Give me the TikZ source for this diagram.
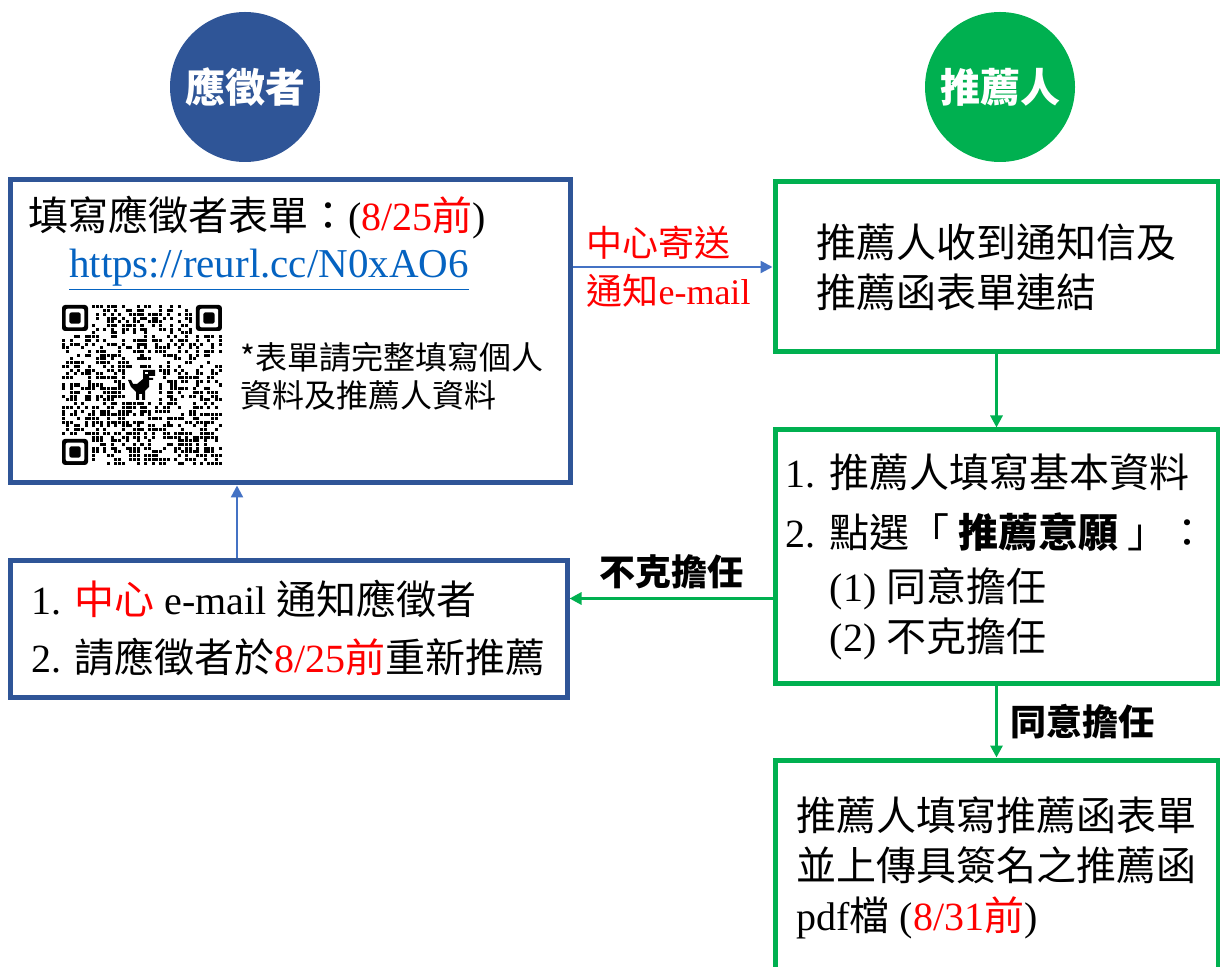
\documentclass[tikz,border=0pt]{standalone}
\usepackage{fontspec}
\setmainfont{Liberation Serif}
\newfontfamily\hei{Noto Sans CJK TC}
\usetikzlibrary{positioning,arrows.meta}
\definecolor{appblue}{HTML}{2F5597}
\definecolor{linkblue}{HTML}{4472C4}
\definecolor{urlblue}{HTML}{0563C1}
\definecolor{refgreen}{HTML}{00B050}
\newcommand{\zh}[1]{{\hei #1}}
\newcommand{\hl}[1]{\textcolor{red}{#1}}

\begin{document}
\begin{tikzpicture}[x=0.5pt, y=-0.5pt,
  every node/.style={font=\fontsize{20}{25}\selectfont, inner sep=0pt},
  bluebox/.style={draw=appblue, line width=2.5pt},
  greenbox/.style={draw=refgreen, line width=2.5pt},
  role/.style={circle, minimum size=75pt, text=white, font=\hei\bfseries\fontsize{20}{24}\selectfont},
  bluearrow/.style={draw=linkblue, line width=1.2pt, -{Triangle[length=6pt,width=6pt]}},
  greenarrow/.style={draw=refgreen, line width=1.5pt, -{Triangle[length=6pt,width=6pt]}},
  armlabel/.style={font=\hei\bfseries\fontsize{18}{22}\selectfont}]
\useasboundingbox (0,0) rectangle (1220,967);

\node[role, fill=appblue] (applicant) at (245,87) {應徵者};
\node[role, fill=refgreen] (referee) at (1000,87) {推薦人};

\node[bluebox, minimum width=280pt, minimum height=151.5pt] (form) at (290,331.5) {};
\node[anchor=west] (formtitle) at (28,218) {\zh{填寫應徵者表單：}(\hl{8/25\zh{前}})};
\node[font=\fontsize{20.5}{25}\selectfont] (url) at (269,270) {\textcolor{urlblue}{\underline{https://reurl.cc/N0xAO6}}};
\node[anchor=west, align=left, font=\hei\fontsize{16}{19}\selectfont] (formnote) at (240,376) {*表單請完整填寫個人\\資料及推薦人資料};

% QR code
\pgfmathsetseed{11}
\foreach \i in {0,...,42}{
  \foreach \j in {0,...,42}{
    \pgfmathtruncatemacro{\qrfree}{((\i<8)&&(\j<8))||((\i>34)&&(\j<8))||((\i<8)&&(\j>34))||((\i>16)&&(\i<26)&&(\j>16)&&(\j<26)) ? 0 : 1}
    \pgfmathrandominteger{\qrbit}{0}{1}
    \ifnum\qrfree=1 \ifnum\qrbit=1
      \fill ({62+\i*3.72+0.35},{305+\j*3.72+0.35}) rectangle ++(3.05,3.05);
    \fi\fi
  }
}
\foreach \fx/\fy in {0/0,36/0,0/36}{
  \fill[rounded corners=1.5pt] ({62+\fx*3.72},{305+\fy*3.72}) rectangle ++(26,26);
  \fill[white, rounded corners=1pt] ({62+(\fx+1)*3.72},{305+(\fy+1)*3.72}) rectangle ++(18.6,18.6);
  \fill[rounded corners=1pt] ({62+(\fx+2)*3.72},{305+(\fy+2)*3.72}) rectangle ++(11.2,11.2);
}
\begin{scope}[shift={(128,370)}]
  \fill (15,0) -- (27,0) -- (27,6) -- (21,6) -- (21,8) -- (25,8) -- (25,10) -- (21,10) -- (21,17)
    -- (17,21) -- (17,30) -- (14,30) -- (14,24) -- (11,24) -- (11,30) -- (8,30) -- (8,22)
    -- (3,17) -- (0,10) -- (3,10) -- (5,14) -- (9,14) -- (15,9) -- cycle;
  \fill[white] (17,2) rectangle ++(2.5,2.5);
\end{scope}

\node[greenbox, minimum width=221.5pt, minimum height=85pt, align=left] (notice) at (996.5,267) {\zh{推薦人收到通知信及}\\\zh{推薦函表單連結}};
\node[greenbox, minimum width=221.5pt, minimum height=126.5pt, align=left] (choice) at (996.5,556.5)
  {1. \zh{推薦人填寫基本資料}\\[5pt] 2. \zh{點選「 \textbf{推薦意願} 」：}\\[2pt]
   \hspace*{22pt}(1) \zh{同意擔任}\\ \hspace*{22pt}(2) \zh{不克擔任}};
\node[bluebox, minimum width=278.5pt, minimum height=68.5pt, align=left] (retry) at (288.5,628.5)
  {1. \hl{\zh{中心}} e-mail \zh{通知應徵者}\\[4pt] 2. \zh{請應徵者於}\hl{8/25\zh{前}}\zh{重新推薦}};
\node[greenbox, minimum width=221.5pt, minimum height=108pt, align=left] (upload) at (996.5,868)
  {\zh{推薦人填寫推薦函表單}\\ \zh{並上傳具簽名之推薦函}\\ pdf\zh{檔} (\hl{8/31\zh{前}})};

\draw[bluearrow] (form.east |- notice.west) -- (notice.west)
  node[midway, above=3pt, xshift=-7pt, text=red, font=\fontsize{18}{22}\selectfont] (sendtop) {\zh{中心寄送}}
  node[midway, below=3pt, xshift=-2pt, text=red, font=\fontsize{18}{22}\selectfont] (sendbot) {\zh{通知}e-mail};
\draw[greenarrow] (notice.south) -- (choice.north);
\draw[greenarrow] ([yshift=-21pt]choice.west) -- ([yshift=-21pt]choice.west -| retry.east)
  node[midway, above=4pt, armlabel] (declinelabel) {不克擔任};
\draw[bluearrow] ([xshift=-25.75pt]retry.north) -- ([xshift=-25.75pt]retry.north |- form.south);
\draw[greenarrow] (choice.south) -- (upload.north)
  node[midway, right=6pt, armlabel] (agreelabel) {同意擔任};
\end{tikzpicture}
\end{document}
